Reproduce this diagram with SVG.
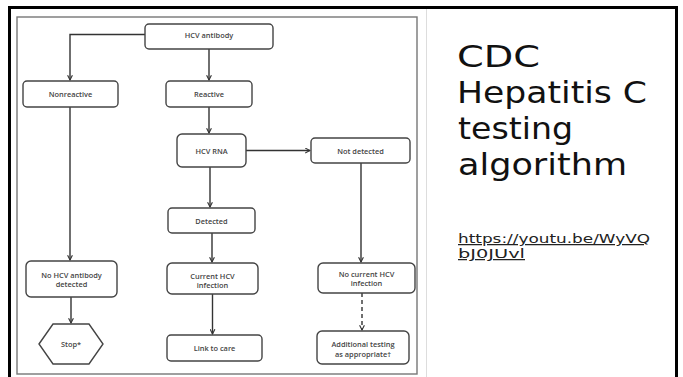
<svg xmlns="http://www.w3.org/2000/svg" width="683" height="377" viewBox="0 0 683 377">
<defs>
<style>
.node{fill:#fff;stroke:#444;stroke-width:1.4}
.lbl{font-family:"Open Sans","Liberation Sans",sans-serif;font-size:7.4px;font-weight:600;fill:#444;text-anchor:middle;dominant-baseline:central}
.edge{fill:none;stroke:#333;stroke-width:1.4}
.title{font-family:"DejaVu Sans","Liberation Sans",sans-serif;font-size:30px;fill:#111}
.url{font-family:"DejaVu Sans","Liberation Sans",sans-serif;font-size:12.5px;fill:#222;text-decoration:underline}
</style>
<marker id="arr" viewBox="0 0 10 10" refX="9" refY="5" markerWidth="6" markerHeight="6" orient="auto" markerUnits="userSpaceOnUse">
<path d="M1,1 L9,5 L1,9" fill="none" stroke="#333" stroke-width="1.8"/>
</marker>
</defs>
<rect x="0" y="0" width="683" height="377" fill="#fff"/>
<!-- outer frame -->
<path d="M9.5,377 V7.5 H676.5 V377" fill="none" stroke="#000" stroke-width="3"/>
<!-- image frame -->
<rect x="17" y="17" width="400" height="357" fill="#fff" stroke="#777" stroke-width="1.4"/>
<line x1="426.5" y1="9" x2="426.5" y2="377" stroke="#ddd" stroke-width="1"/>

<g id="connectors">
<path class="edge" d="M145,34.5 H70 V80" marker-end="url(#arr)"/>
<path class="edge" d="M209,49 V80" marker-end="url(#arr)"/>
<path class="edge" d="M209,107 V133" marker-end="url(#arr)"/>
<path class="edge" d="M246,150.5 H310" marker-end="url(#arr)"/>
<path class="edge" d="M210,167 V207" marker-end="url(#arr)"/>
<path class="edge" d="M70,107 V260" marker-end="url(#arr)"/>
<path class="edge" d="M361,163 V262" marker-end="url(#arr)"/>
<path class="edge" d="M212,233 V262" marker-end="url(#arr)"/>
<path class="edge" d="M212.5,294 V334" marker-end="url(#arr)"/>
<path class="edge" d="M71,297 V323" marker-end="url(#arr)"/>
<path class="edge" d="M362,293 V330" stroke-dasharray="4,3" marker-end="url(#arr)"/>
</g>

<g id="hcv-antibody"><rect class="node" x="145" y="24" width="128" height="25" rx="4"/><text class="lbl" x="209" y="35">HCV antibody</text></g>
<g id="nonreactive"><rect class="node" x="23" y="81" width="95" height="26" rx="4"/><text class="lbl" x="70.5" y="94">Nonreactive</text></g>
<g id="reactive"><rect class="node" x="166" y="81" width="86" height="26" rx="4"/><text class="lbl" x="209" y="94">Reactive</text></g>
<g id="hcv-rna"><rect class="node" x="177" y="134" width="69" height="33" rx="5"/><text class="lbl" x="211.5" y="150.5">HCV RNA</text></g>
<g id="not-detected"><rect class="node" x="311" y="138" width="99" height="25" rx="4"/><text class="lbl" x="360.5" y="150.5">Not detected</text></g>
<g id="detected"><rect class="node" x="168" y="208" width="87" height="25" rx="4"/><text class="lbl" x="211.5" y="221">Detected</text></g>
<g id="no-antibody"><rect class="node" x="26" y="261" width="91" height="36" rx="5"/><text class="lbl" x="71.5" y="274.5">No HCV antibody</text><text class="lbl" x="71.5" y="283.5">detected</text></g>
<g id="current-infection"><rect class="node" x="167" y="263" width="91" height="31" rx="5"/><text class="lbl" x="212.5" y="276">Current HCV</text><text class="lbl" x="212.5" y="285">infection</text></g>
<g id="no-current-infection"><rect class="node" x="318" y="263" width="97" height="30" rx="5"/><text class="lbl" x="366.5" y="274">No current HCV</text><text class="lbl" x="366.5" y="282.5">infection</text></g>
<g id="stop"><polygon class="node" points="39,344 53,324 89,324 103,344 89,364 53,364"/><text class="lbl" x="71" y="344">Stop*</text></g>
<g id="link-to-care"><rect class="node" x="167" y="335" width="95" height="26" rx="4"/><text class="lbl" x="214.5" y="348">Link to care</text></g>
<g id="additional-testing"><rect class="node" x="317" y="331" width="92" height="33" rx="5"/><text class="lbl" x="363" y="344">Additional testing</text><text class="lbl" x="363" y="353.5">as appropriate†</text></g>

<g id="title">
<text class="title" x="457" y="67" textLength="83" lengthAdjust="spacingAndGlyphs">CDC</text>
<text class="title" x="457" y="103" textLength="190" lengthAdjust="spacingAndGlyphs">Hepatitis C</text>
<text class="title" x="458" y="139" textLength="115" lengthAdjust="spacingAndGlyphs">testing</text>
<text class="title" x="458" y="175" textLength="169" lengthAdjust="spacingAndGlyphs">algorithm</text>
</g>
<g id="link">
<text class="url" x="458" y="243" textLength="192" lengthAdjust="spacingAndGlyphs">https://youtu.be/WyVQ</text>
<text class="url" x="458" y="258" textLength="67" lengthAdjust="spacingAndGlyphs">bJ0JUvl</text>
</g>
</svg>
